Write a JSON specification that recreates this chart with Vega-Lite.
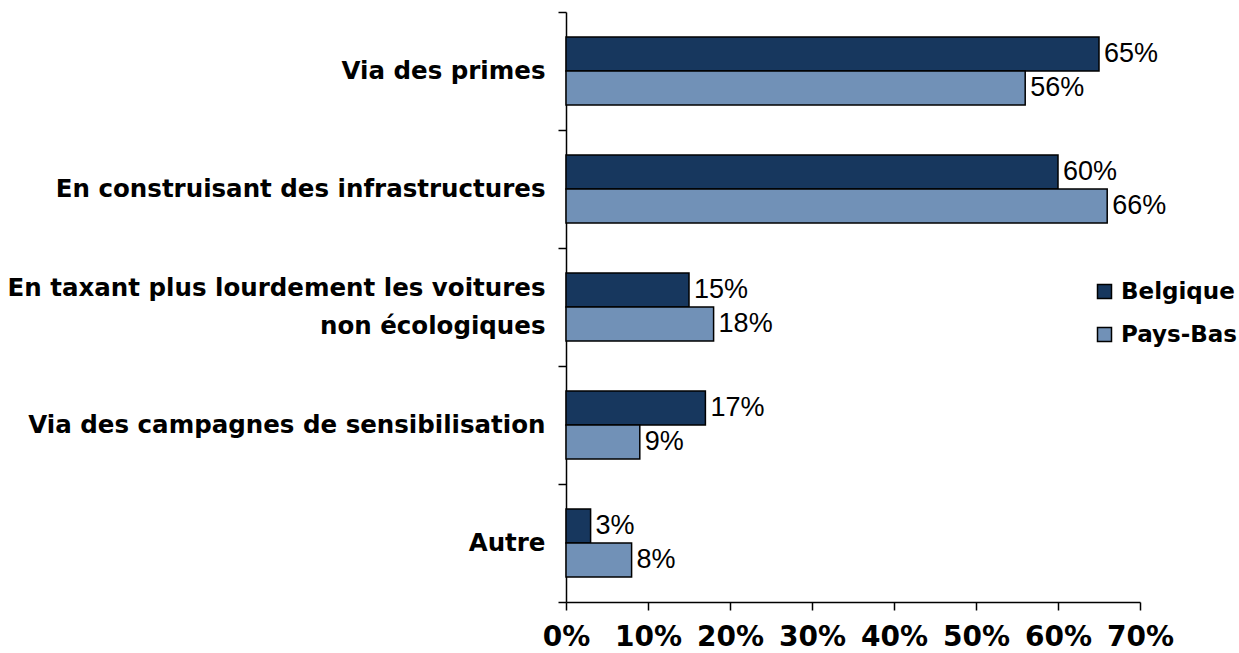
{
  "$schema": "https://vega.github.io/schema/vega-lite/v6.json",
  "width": 574,
  "height": 590,
  "autosize": {"type": "none"},
  "padding": {"left": 566, "top": 12, "right": 99, "bottom": 51},
  "background": "white",
  "config": {"view": {"stroke": null}, "font": "DejaVu Sans"},
  "data": {
    "values": [
      {"cat": "Via des primes", "pays": "Belgique", "v": 0.65},
      {"cat": "Via des primes", "pays": "Pays-Bas", "v": 0.56},
      {"cat": "En construisant des infrastructures", "pays": "Belgique", "v": 0.60},
      {"cat": "En construisant des infrastructures", "pays": "Pays-Bas", "v": 0.66},
      {"cat": "En taxant plus lourdement les voitures non écologiques", "pays": "Belgique", "v": 0.15},
      {"cat": "En taxant plus lourdement les voitures non écologiques", "pays": "Pays-Bas", "v": 0.18},
      {"cat": "Via des campagnes de sensibilisation", "pays": "Belgique", "v": 0.17},
      {"cat": "Via des campagnes de sensibilisation", "pays": "Pays-Bas", "v": 0.09},
      {"cat": "Autre", "pays": "Belgique", "v": 0.03},
      {"cat": "Autre", "pays": "Pays-Bas", "v": 0.08}
    ]
  },
  "encoding": {
    "y": {
      "field": "cat",
      "type": "nominal",
      "sort": ["Via des primes", "En construisant des infrastructures", "En taxant plus lourdement les voitures non écologiques", "Via des campagnes de sensibilisation", "Autre"],
      "scale": {"paddingInner": 0, "paddingOuter": 0},
      "axis": {
        "title": null,
        "labelFontSize": 24.5,
        "labelFontWeight": "bold",
        "labelColor": "black",
        "labelPadding": 13,
        "labelLimit": 600,
        "labelLineHeight": 38,
        "labelOffset": {"condition": {"test": "datum.value == 'En taxant plus lourdement les voitures non écologiques'", "value": -19}, "value": 0},
        "labelExpr": "datum.label == 'En taxant plus lourdement les voitures non écologiques' ? ['En taxant plus lourdement les voitures', 'non écologiques'] : datum.label",
        "tickBand": "extent",
        "tickSize": 8,
        "tickColor": "black",
        "tickWidth": 1.5,
        "domainColor": "black",
        "domainWidth": 1.5,
        "grid": false
      }
    },
    "yOffset": {
      "field": "pays",
      "sort": ["Belgique", "Pays-Bas"],
      "scale": {"paddingOuter": 0.735, "paddingInner": 0}
    },
    "x": {
      "field": "v",
      "type": "quantitative",
      "scale": {"domain": [0, 0.7]},
      "axis": {
        "title": null,
        "format": ".0%",
        "values": [0, 0.1, 0.2, 0.3, 0.4, 0.5, 0.6, 0.7],
        "labelFontSize": 28,
        "labelFontWeight": "bold",
        "labelColor": "black",
        "labelPadding": 13,
        "labelFlush": false,
        "tickSize": 8,
        "tickColor": "black",
        "tickWidth": 1.5,
        "domainColor": "black",
        "domainWidth": 1.5,
        "grid": false
      }
    }
  },
  "layer": [
    {
      "mark": {"type": "bar", "stroke": "black", "strokeWidth": 1.5},
      "encoding": {
        "color": {
          "field": "pays",
          "type": "nominal",
          "scale": {"domain": ["Belgique", "Pays-Bas"], "range": ["#17375E", "#7191B7"]},
          "legend": {
            "title": null,
            "orient": "none",
            "legendX": 527,
            "legendY": 268,
            "symbolType": "square",
            "symbolSize": 196,
            "symbolStrokeColor": "black",
            "symbolStrokeWidth": 1.5,
            "labelFontSize": 23,
            "labelFontWeight": "bold",
            "labelColor": "black",
            "labelOffset": 5,
            "rowPadding": 19,
            "padding": 0
          }
        }
      }
    },
    {
      "mark": {"type": "text", "align": "left", "baseline": "middle", "dx": 5, "fontSize": 27, "font": "Liberation Sans", "color": "black"},
      "encoding": {
        "text": {"field": "v", "type": "quantitative", "format": ".0%"}
      }
    }
  ]
}
